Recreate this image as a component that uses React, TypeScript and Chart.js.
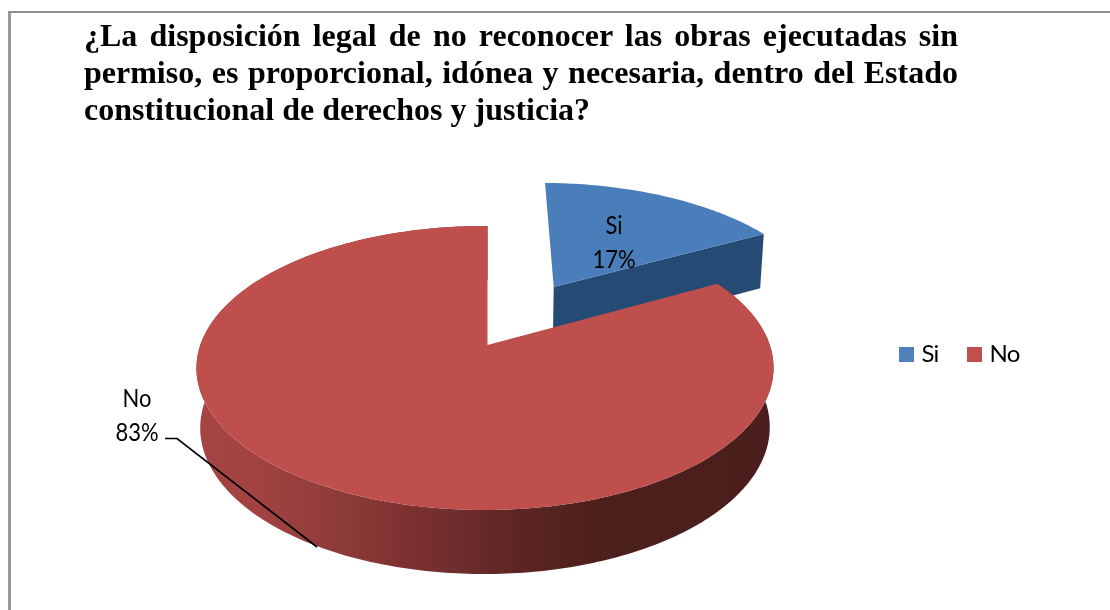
import React, { useEffect, useRef } from "react";
import { Chart, registerables } from "chart.js";

Chart.register(...registerables);

const categories = ["Si", "No"];
const seriesValues = [17, 83];
const sliceColors = ["#4A7EBB", "#BE4F4D"];
const legendColors = ["#4F81BD", "#C0504D"];
const titleLines = [
  "¿La disposición legal de no reconocer las obras ejecutadas sin",
  "permiso, es proporcional, idónea y necesaria, dentro del Estado",
  "constitucional de derechos y justicia?",
];

const X0 = 487.5, Y0 = 345, A = 284.7, B = 138.3, K = 0.162, M = 0.0087, H = 58.6;
const EXPLODE_U = 0.25, EXPLODE_V = -0.45;
const SIDE_STOPS: [number, string][] = [
  [0, "#A54543"], [0.09, "#A34341"], [0.23, "#8F3C3B"], [0.38, "#7A302F"], [0.44, "#6E2E2D"],
  [0.59, "#582320"], [0.7, "#4C201C"], [1, "#4A1E1C"],
];

type P = [number, number];
const denom = (u: number, v: number) => 1 - K * v + M * u;
const top = (u: number, v: number): P => {
  const d = denom(u, v);
  return [X0 + (A * u) / d, Y0 + (B * v) / d];
};
const bottom = (u: number, v: number): P => {
  const d = denom(u, v);
  return [X0 + (0.987 * A * u) / d, Y0 + (B * v) / d + H / Math.sqrt(d)];
};

const rimPoints = (a0: number, a1: number, du: number, dv: number) => {
  const pts: [number, number][] = [];
  const n = Math.max(8, Math.ceil((a1 - a0) * 60));
  for (let i = 0; i <= n; i++) {
    const t = a0 + ((a1 - a0) * i) / n;
    pts.push([du + Math.sin(t), dv - Math.cos(t)]);
  }
  return pts;
};

const makeSwatch = (color: string) => {
  const c = document.createElement("canvas");
  c.width = 15;
  c.height = 15;
  const g = c.getContext("2d") as CanvasRenderingContext2D;
  g.fillStyle = color;
  g.fillRect(0, 0, 15, 15);
  return c;
};

const pie3d = {
  id: "pie3d",
  beforeDraw(chart: any) {
    (chart.ctx as any).letterSpacing = "-0.8px";
  },
  beforeDatasetsDraw(chart: any) {
    const ctx: CanvasRenderingContext2D = chart.ctx;
    const arcs = chart.getDatasetMeta(0).data;
    ctx.save();
    for (const i of [0, 1]) {
      const el = arcs[i];
      const a0 = el.startAngle + Math.PI / 2;
      const a1 = el.endAngle + Math.PI / 2;
      const exploded = el.options.offset > 0;
      const du = exploded ? EXPLODE_U : 0;
      const dv = exploded ? EXPLODE_V : 0;
      const rim = rimPoints(a0, a1, du, dv);
      if (exploded) {
        ctx.fillStyle = "#254A74";
        const last = rim[rim.length - 1];
        ctx.beginPath();
        let p = top(du, dv); ctx.moveTo(p[0], p[1]);
        p = top(last[0], last[1]); ctx.lineTo(p[0], p[1]);
        p = bottom(last[0], last[1]); ctx.lineTo(p[0], p[1]);
        p = bottom(du, dv); ctx.lineTo(p[0], p[1]);
        ctx.closePath();
        ctx.fill();
      } else {
        const g = ctx.createLinearGradient(X0 - 290, 0, X0 + 290, 0);
        for (const [s, c] of SIDE_STOPS) g.addColorStop(s, c);
        ctx.fillStyle = g;
        ctx.beginPath();
        rim.forEach(([u, v], k) => {
          const p = top(u, v);
          if (k === 0) ctx.moveTo(p[0], p[1]); else ctx.lineTo(p[0], p[1]);
        });
        [...rim].reverse().forEach(([u, v]) => {
          const p = bottom(u, v);
          ctx.lineTo(p[0], p[1]);
        });
        ctx.closePath();
        ctx.fill();
      }
      ctx.fillStyle = el.options.backgroundColor;
      ctx.beginPath();
      const c = top(du, dv);
      ctx.moveTo(c[0], c[1]);
      rim.forEach(([u, v]) => {
        const p = top(u, v);
        ctx.lineTo(p[0], p[1]);
      });
      ctx.closePath();
      ctx.fill();
    }
    ctx.restore();
    return false;
  },
  afterDraw(chart: any) {
    const ctx: CanvasRenderingContext2D = chart.ctx;
    const total = seriesValues.reduce((a, b) => a + b, 0);
    const pct = seriesValues.map((v) => `${Math.round((v / total) * 100)}%`);
    const labelAt: P[] = [[614, 226], [137, 399]];
    ctx.save();
    (ctx as any).letterSpacing = "0px";
    ctx.strokeStyle = "#000";
    ctx.lineWidth = 1.7;
    ctx.beginPath();
    ctx.moveTo(165, 438.5);
    ctx.lineTo(177, 438.5);
    ctx.lineTo(317, 547);
    ctx.stroke();
    ctx.fillStyle = "#000";
    ctx.font = "25px Lato";
    ctx.textAlign = "center";
    ctx.textBaseline = "middle";
    categories.forEach((name, i) => {
      [name, pct[i]].forEach((txt, row) => {
        ctx.save();
        ctx.translate(labelAt[i][0], labelAt[i][1] + row * 34);
        ctx.scale(0.88, 1);
        ctx.fillText(txt, 0, 0);
        ctx.restore();
      });
    });
    ctx.restore();
  },
  afterLayout(chart: any) {
    const lg = chart.legend;
    const pad = lg.options.labels.padding;
    const w = lg.width;
    lg.left = 903.5 - pad;
    lg.right = lg.left + w;
    lg.top = 354 - 12 - pad;
    lg.bottom = lg.top + lg.height;
  },
};

export default function App() {
  const ref = useRef<HTMLCanvasElement>(null);
  useEffect(() => {
    const swatches = legendColors.map(makeSwatch);
    const chart = new Chart(ref.current as HTMLCanvasElement, {
      type: "pie",
      data: {
        labels: categories,
        datasets: [
          {
            data: seriesValues,
            backgroundColor: sliceColors,
            borderWidth: 0,
            offset: [60, 0],
          },
        ],
      },
      options: {
        responsive: false,
        animation: false,
        rotation: 0,
        plugins: {
          title: { display: false },
          tooltip: { enabled: false },
          legend: {
            display: true,
            position: "top",
            align: "start",
            labels: {
              usePointStyle: true,
              boxWidth: 6,
              padding: 33,
              color: "#000",
              font: { family: "Lato", size: 24 },
              generateLabels: () =>
                categories.map((text, i) => ({
                  text,
                  fillStyle: legendColors[i],
                  strokeStyle: legendColors[i],
                  pointStyle: swatches[i],
                  lineWidth: 0,
                  index: i,
                })),
            },
          },
        },
      } as any,
      plugins: [pie3d as any],
    });
    return () => chart.destroy();
  }, []);

  return (
    <div style={{ position: "fixed", left: 0, top: 0, width: 1110, height: 610, overflow: "hidden", background: "#fff", filter: "blur(0.4px)" }}>
      <canvas ref={ref} width={1110} height={610} style={{ position: "absolute", left: 0, top: 0 }} />
      <div style={{ position: "absolute", left: 8, top: 11, width: 1102, height: 599, boxSizing: "border-box", borderTop: "2px solid #8F8F8F", borderLeft: "3px solid #999" }} />
      <div
        style={{
          position: "absolute",
          left: 84,
          top: 17,
          width: 874,
          fontFamily: "'Liberation Serif'",
          fontWeight: "bold",
          fontSize: 32,
          lineHeight: "37px",
          color: "#000",
        }}
      >
        {titleLines.map((line, i) => (
          <div key={i} style={{ textAlign: "justify", textAlignLast: i < 2 ? "justify" : "left", whiteSpace: "nowrap" }}>
            {line}
          </div>
        ))}
      </div>
    </div>
  );
}
